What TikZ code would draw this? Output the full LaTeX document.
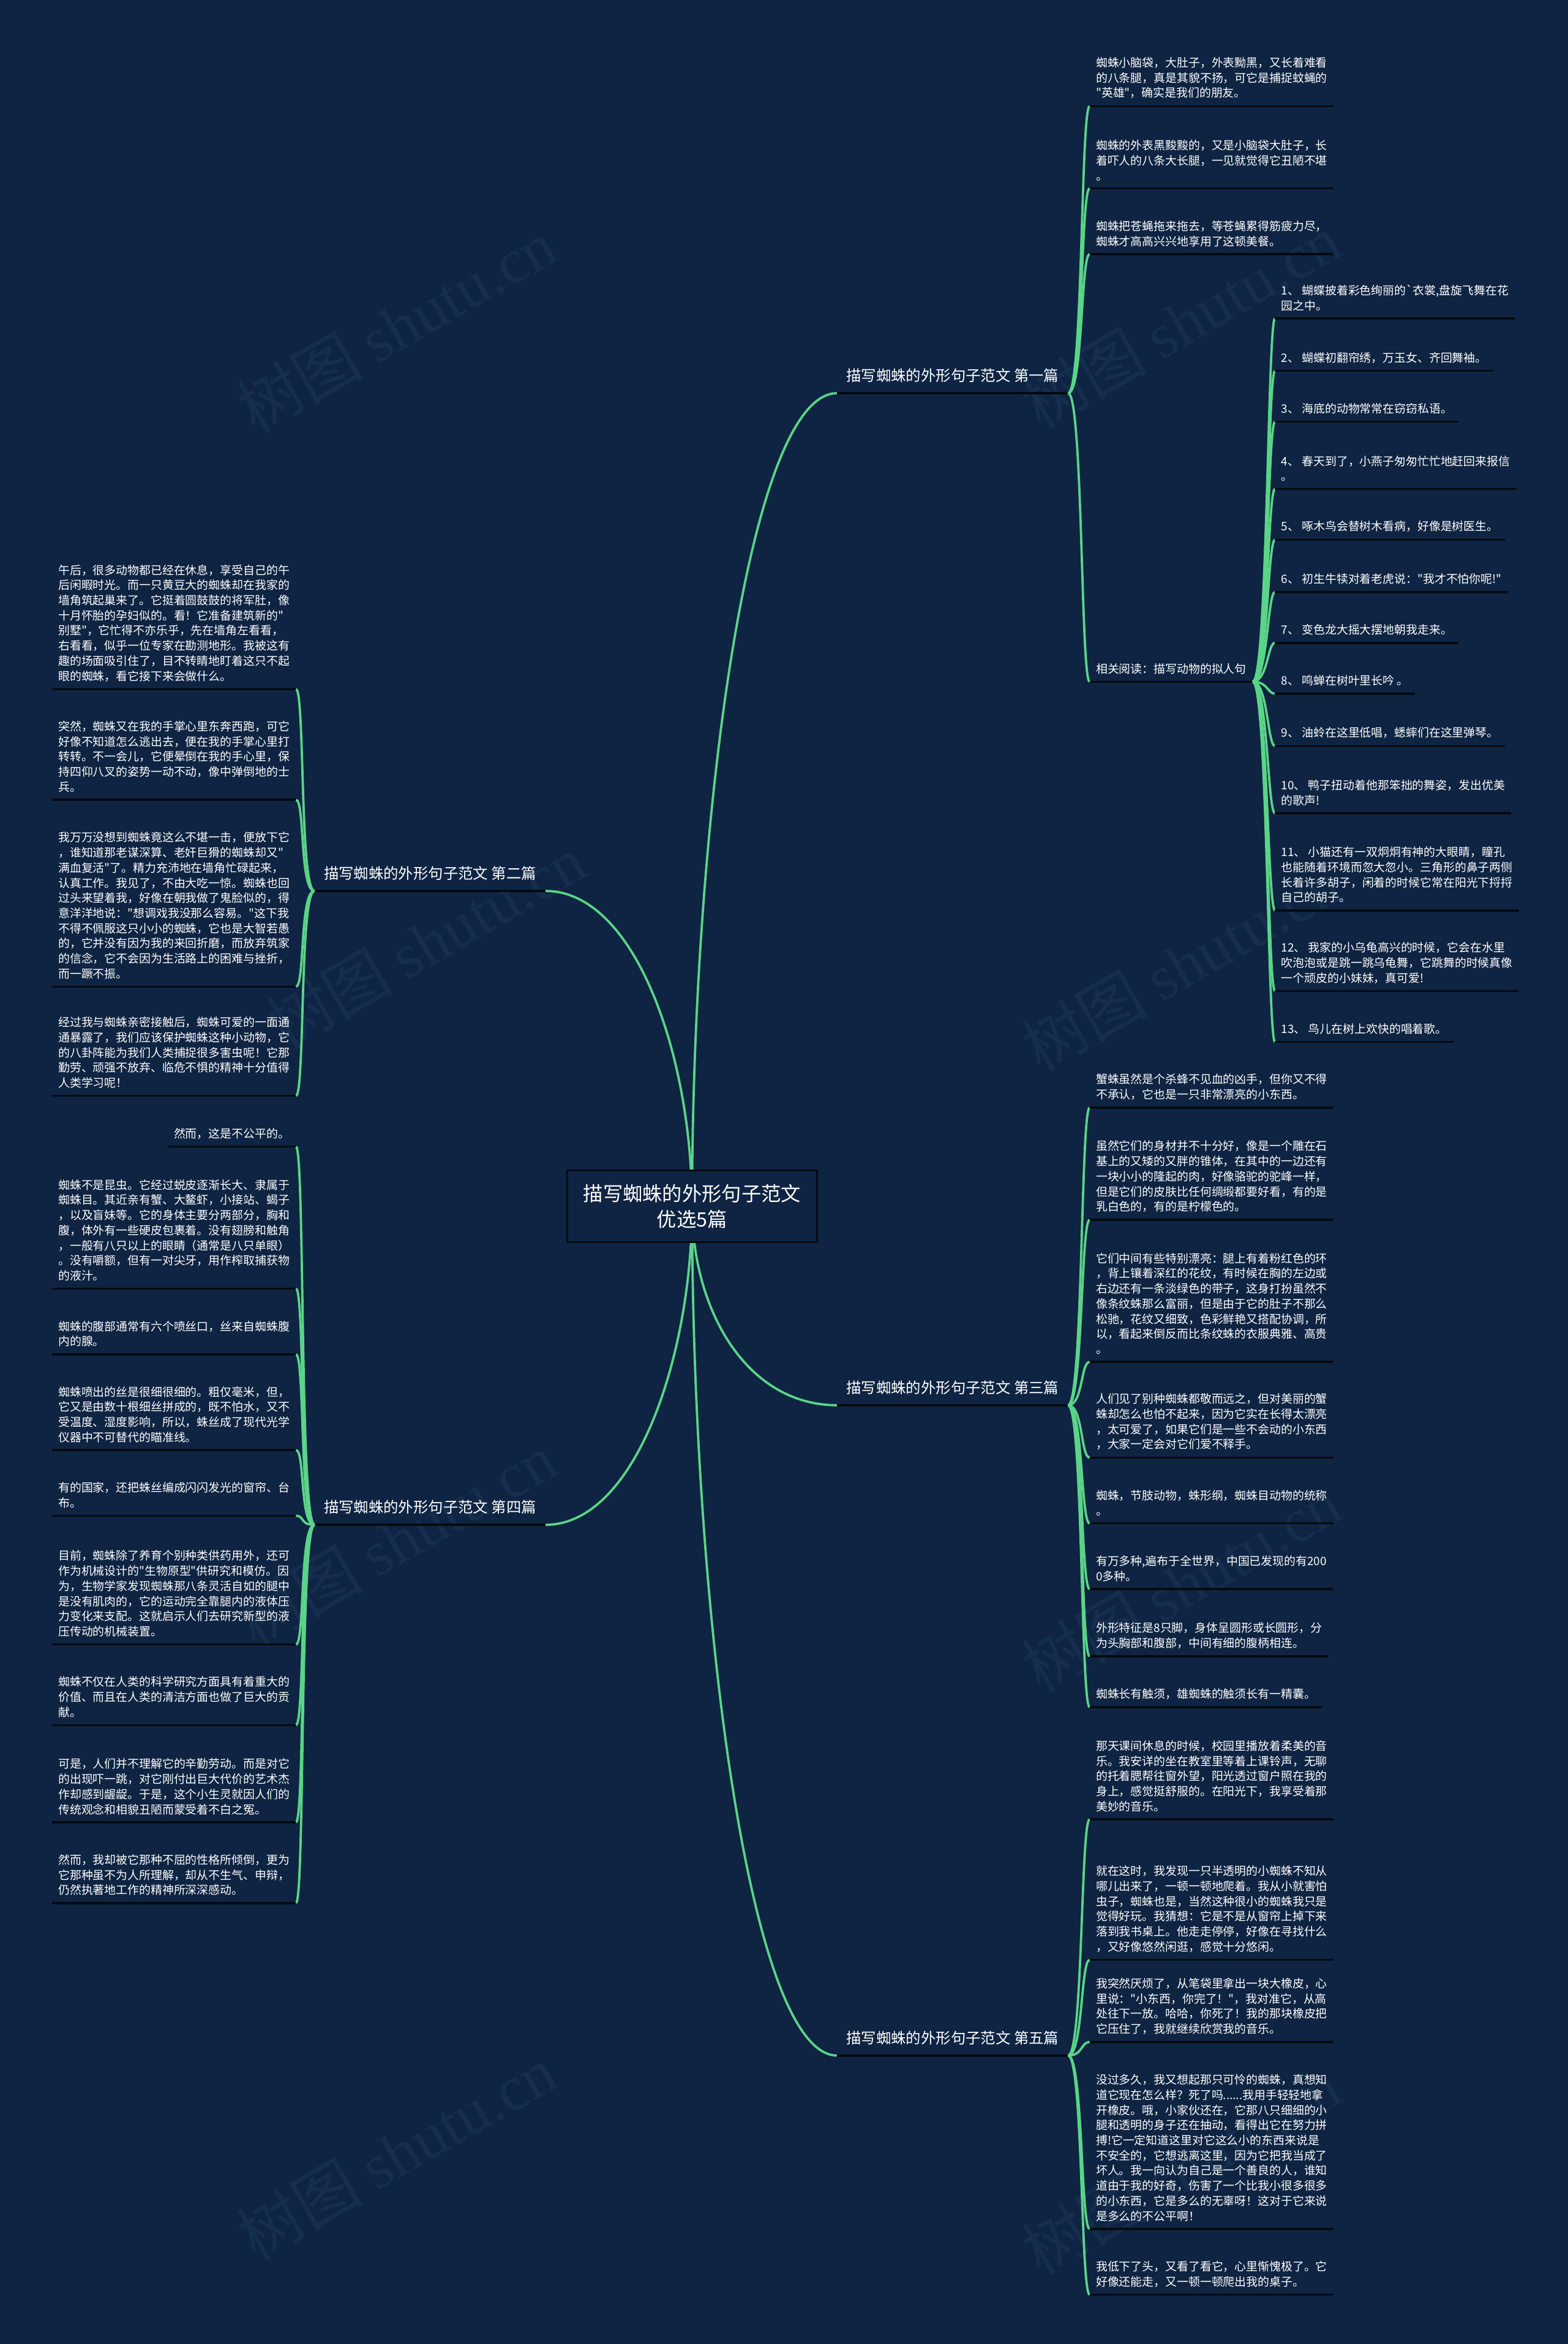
\documentclass[tikz,border=0pt]{standalone}
\usepackage{fontspec}
\setmainfont{Noto Sans CJK SC}
\newfontfamily\cjk{Noto Sans CJK SC}
\newfontfamily\wmserif{Liberation Serif}
\usetikzlibrary{backgrounds}

\definecolor{bgnavy}{HTML}{0E2442}
\definecolor{linkgreen}{HTML}{5AD487}
\definecolor{ulblack}{HTML}{050A12}
\definecolor{wmgray}{HTML}{152E4D}

\tikzset{
    link/.style={draw=linkgreen, line width=1.1pt},
    uline/.style={draw=ulblack, line width=1pt},
    leaf/.style={text=white, align=left, inner xsep=0.1cm, inner ysep=0.12cm,
        font=\cjk\fontsize{5.5pt}{7.2pt}\selectfont},
    leafR/.style={leaf, anchor=south west},
    leafL/.style={leaf, anchor=south east},
    branch/.style={text=white, inner xsep=0.15cm, inner ysep=0.17cm,
        font=\cjk\fontsize{7.1pt}{9pt}\selectfont},
    rootbox/.style={draw=ulblack, fill=bgnavy, text=white, align=center, line width=0.8pt,
        minimum width=4.175cm, minimum height=1.2cm, font=\cjk\fontsize{9.4pt}{12pt}\selectfont},
    watermark/.style={text=wmgray, rotate=30, font=\cjk\fontsize{30pt}{30pt}\selectfont}
}

\begin{document}
\begin{tikzpicture}[x=0.025cm, y=-0.025cm]

    % 1. 中心主题
    \node[rootbox] (root) at (463,807) {描写蜘蛛的外形句子范文\\优选5篇};

    % 2. 五个分支
    \node[branch, anchor=south west] (b1) at (560,263)  {描写蜘蛛的外形句子范文 第一篇};
    \node[branch, anchor=south east] (b2) at (365,596)  {描写蜘蛛的外形句子范文 第二篇};
    \node[branch, anchor=south west] (b3) at (560,940)  {描写蜘蛛的外形句子范文 第三篇};
    \node[branch, anchor=south east] (b4) at (365,1020) {描写蜘蛛的外形句子范文 第四篇};
    \node[branch, anchor=south west] (b5) at (560,1375) {描写蜘蛛的外形句子范文 第五篇};
    \foreach \b in {b1,b2,b3,b4,b5} {
        \draw[uline] (\b.south west) -- (\b.south east);
    }

    % 背景、水印和主干连线
    \begin{scope}[on background layer]
        \fill[bgnavy] (0,0) rectangle (1049,1568);
        \foreach \x/\y in {265/218, 790/215, 285/630, 790/645, 265/1030, 790/1060, 265/1440, 790/1450} {
            \node[watermark] at (\x,\y) {树图 {\wmserif shutu.cn}};
        }
        \draw[link] (root.center) .. controls +(0,-250) and +(-60,0) .. (b1.south west);
        \draw[link] (root.center) .. controls +(0,-100) and +(60,0) .. (b2.south east);
        \draw[link] (root.center) .. controls +(0,70) and +(-60,0) .. (b3.south west);
        \draw[link] (root.center) .. controls +(0,100) and +(60,0) .. (b4.south east);
        \draw[link] (root.center) .. controls +(0,260) and +(-60,0) .. (b5.south west);
    \end{scope}
    \useasboundingbox (0,0) rectangle (1049,1568);

    % 3. 第一篇
    \foreach \n/\y/\t in {
        b1c1/71/{蜘蛛小脑袋，大肚子，外表黝黑，又长着难看\\的八条腿，真是其貌不扬，可它是捕捉蚊蝇的\\"英雄"，确实是我们的朋友。},
        b1c2/126/{蜘蛛的外表黑黢黢的，又是小脑袋大肚子，长\\着吓人的八条大长腿，一见就觉得它丑陋不堪\\。},
        b1c3/170/{蜘蛛把苍蝇拖来拖去，等苍蝇累得筋疲力尽，\\蜘蛛才高高兴兴地享用了这顿美餐。},
        b1c4/456/{相关阅读：描写动物的拟人句}} {
        \node[leafR] (\n) at (729,\y) {\t};
        \draw[link] (b1.south east) .. controls +(10,0) and +(-6,0) .. (\n.south west);
        \draw[uline] (\n.south west) -- (\n.south east);
    }

    % 相关阅读
    \foreach \n/\y/\t in {
        r1/213/{1、 蝴蝶披着彩色绚丽的\symbol{96}衣裳,盘旋飞舞在花\\园之中。},
        r2/248/{2、 蝴蝶初翻帘绣，万玉女、齐回舞袖。},
        r3/282/{3、 海底的动物常常在窃窃私语。},
        r4/327/{4、 春天到了，小燕子匆匆忙忙地赶回来报信\\。},
        r5/361/{5、 啄木鸟会替树木看病，好像是树医生。},
        r6/396/{6、 初生牛犊对着老虎说："我才不怕你呢!"},
        r7/430/{7、 变色龙大摇大摆地朝我走来。},
        r8/464/{8、 鸣蝉在树叶里长吟 。},
        r9/499/{9、 油蛉在这里低唱，蟋蟀们在这里弹琴。},
        r10/544/{10、 鸭子扭动着他那笨拙的舞姿，发出优美\\的歌声!},
        r11/609/{11、 小猫还有一双炯炯有神的大眼睛，瞳孔\\也能随着环境而忽大忽小。三角形的鼻子两侧\\长着许多胡子，闲着的时候它常在阳光下捋捋\\自己的胡子。},
        r12/663/{12、 我家的小乌龟高兴的时候，它会在水里\\吹泡泡或是跳一跳乌龟舞，它跳舞的时候真像\\一个顽皮的小妹妹，真可爱!},
        r13/697/{13、 鸟儿在树上欢快的唱着歌。}} {
        \node[leafR] (\n) at (853,\y) {\t};
        \draw[link] (b1c4.south east) .. controls +(10,0) and +(-5,0) .. (\n.south west);
        \draw[uline] (\n.south west) -- (\n.south east);
    }

    % 4. 第二篇
    \foreach \n/\y/\t in {
        b2c1/461/{午后，很多动物都已经在休息，享受自己的午\\后闲暇时光。而一只黄豆大的蜘蛛却在我家的\\墙角筑起巢来了。它挺着圆鼓鼓的将军肚，像\\十月怀胎的孕妇似的。看！它准备建筑新的"\\别墅"，它忙得不亦乐乎，先在墙角左看看，\\右看看，似乎一位专家在勘测地形。我被这有\\趣的场面吸引住了，目不转睛地盯着这只不起\\眼的蜘蛛，看它接下来会做什么。},
        b2c2/535/{突然，蜘蛛又在我的手掌心里东奔西跑，可它\\好像不知道怎么逃出去，便在我的手掌心里打\\转转。不一会儿，它便晕倒在我的手心里，保\\持四仰八叉的姿势一动不动，像中弹倒地的士\\兵。},
        b2c3/660/{我万万没想到蜘蛛竟这么不堪一击，便放下它\\，谁知道那老谋深算、老奸巨猾的蜘蛛却又"\\满血复活"了。精力充沛地在墙角忙碌起来，\\认真工作。我见了，不由大吃一惊。蜘蛛也回\\过头来望着我，好像在朝我做了鬼脸似的，得\\意洋洋地说："想调戏我没那么容易。"这下我\\不得不佩服这只小小的蜘蛛，它也是大智若愚\\的，它并没有因为我的来回折磨，而放弃筑家\\的信念，它不会因为生活路上的困难与挫折，\\而一蹶不振。},
        b2c4/733/{经过我与蜘蛛亲密接触后，蜘蛛可爱的一面通\\通暴露了，我们应该保护蜘蛛这种小动物，它\\的八卦阵能为我们人类捕捉很多害虫呢！它那\\勤劳、顽强不放弃、临危不惧的精神十分值得\\人类学习呢！}} {
        \node[leafL] (\n) at (198,\y) {\t};
        \draw[link] (b2.south west) .. controls +(-10,0) and +(6,0) .. (\n.south east);
        \draw[uline] (\n.south west) -- (\n.south east);
    }

    % 5. 第三篇
    \foreach \n/\y/\t in {
        b3c1/741/{蟹蛛虽然是个杀蜂不见血的凶手，但你又不得\\不承认，它也是一只非常漂亮的小东西。},
        b3c2/816/{虽然它们的身材并不十分好，像是一个雕在石\\基上的又矮的又胖的锥体，在其中的一边还有\\一块小小的隆起的肉，好像骆驼的驼峰一样，\\但是它们的皮肤比任何绸缎都要好看，有的是\\乳白色的，有的是柠檬色的。},
        b3c3/911/{它们中间有些特别漂亮：腿上有着粉红色的环\\，背上镶着深红的花纹，有时候在胸的左边或\\右边还有一条淡绿色的带子，这身打扮虽然不\\像条纹蛛那么富丽，但是由于它的肚子不那么\\松驰，花纹又细致，色彩鲜艳又搭配协调，所\\以，看起来倒反而比条纹蛛的衣服典雅、高贵\\。},
        b3c4/975/{人们见了别种蜘蛛都敬而远之，但对美丽的蟹\\蛛却怎么也怕不起来，因为它实在长得太漂亮\\，太可爱了，如果它们是一些不会动的小东西\\，大家一定会对它们爱不释手。},
        b3c5/1019/{蜘蛛，节肢动物，蛛形纲，蜘蛛目动物的统称\\。},
        b3c6/1063/{有万多种,遍布于全世界，中国已发现的有200\\0多种。},
        b3c7/1108/{外形特征是8只脚，身体呈圆形或长圆形，分\\为头胸部和腹部，中间有细的腹柄相连。},
        b3c8/1142/{蜘蛛长有触须，雄蜘蛛的触须长有一精囊。}} {
        \node[leafR] (\n) at (729,\y) {\t};
        \draw[link] (b3.south east) .. controls +(10,0) and +(-6,0) .. (\n.south west);
        \draw[uline] (\n.south west) -- (\n.south east);
    }

    % 6. 第四篇
    \foreach \n/\y/\t in {
        b4c1/767/{然而，这是不公平的。},
        b4c2/862/{蜘蛛不是昆虫。它经过蜕皮逐渐长大、隶属于\\蜘蛛目。其近亲有蟹、大鳌虾，小接站、蝎子\\，以及盲妹等。它的身体主要分两部分，胸和\\腹，体外有一些硬皮包裹着。没有翅膀和触角\\，一般有八只以上的眼睛（通常是八只单眼）\\。没有嚼额，但有一对尖牙，用作榨取捕获物\\的液汁。},
        b4c3/906/{蜘蛛的腹部通常有六个喷丝口，丝来自蜘蛛腹\\内的腺。},
        b4c4/970/{蜘蛛喷出的丝是很细很细的。粗仅毫米，但，\\它又是由数十根细丝拼成的，既不怕水，又不\\受温度、湿度影响，所以，蛛丝成了现代光学\\仪器中不可替代的瞄准线。},
        b4c5/1014/{有的国家，还把蛛丝编成闪闪发光的窗帘、台\\布。},
        b4c6/1100/{目前，蜘蛛除了养育个别种类供药用外，还可\\作为机械设计的"生物原型"供研究和模仿。因\\为，生物学家发现蜘蛛那八条灵活自如的腿中\\是没有肌肉的，它的运动完全靠腿内的液体压\\力变化来支配。这就启示人们去研究新型的液\\压传动的机械装置。},
        b4c7/1154/{蜘蛛不仅在人类的科学研究方面具有着重大的\\价值、而且在人类的清洁方面也做了巨大的贡\\献。},
        b4c8/1219/{可是，人们并不理解它的辛勤劳动。而是对它\\的出现吓一跳，对它刚付出巨大代价的艺术杰\\作却感到龌龊。于是，这个小生灵就因人们的\\传统观念和相貌丑陋而蒙受着不白之冤。},
        b4c9/1273/{然而，我却被它那种不屈的性格所倾倒，更为\\它那种虽不为人所理解，却从不生气、申辩，\\仍然执著地工作的精神所深深感动。}} {
        \node[leafL] (\n) at (198,\y) {\t};
        \draw[link] (b4.south west) .. controls +(-10,0) and +(6,0) .. (\n.south east);
        \draw[uline] (\n.south west) -- (\n.south east);
    }

    % 7. 第五篇
    \foreach \n/\y/\t in {
        b5c1/1217/{那天课间休息的时候，校园里播放着柔美的音\\乐。我安详的坐在教室里等着上课铃声，无聊\\的托着腮帮往窗外望，阳光透过窗户照在我的\\身上，感觉挺舒服的。在阳光下，我享受着那\\美妙的音乐。},
        b5c2/1311/{就在这时，我发现一只半透明的小蜘蛛不知从\\哪儿出来了，一顿一顿地爬着。我从小就害怕\\虫子，蜘蛛也是，当然这种很小的蜘蛛我只是\\觉得好玩。我猜想：它是不是从窗帘上掉下来\\落到我书桌上。他走走停停，好像在寻找什么\\，又好像悠然闲逛，感觉十分悠闲。},
        b5c3/1366/{我突然厌烦了，从笔袋里拿出一块大橡皮，心\\里说："小东西，你完了！"，我对准它，从高\\处往下一放。哈哈，你死了！我的那块橡皮把\\它压住了，我就继续欣赏我的音乐。},
        b5c4/1491/{没过多久，我又想起那只可怜的蜘蛛，真想知\\道它现在怎么样？死了吗......我用手轻轻地拿\\开橡皮。哦，小家伙还在，它那八只细细的小\\腿和透明的身子还在抽动，看得出它在努力拼\\搏!它一定知道这里对它这么小的东西来说是\\不安全的，它想逃离这里，因为它把我当成了\\坏人。我一向认为自己是一个善良的人，谁知\\道由于我的好奇，伤害了一个比我小很多很多\\的小东西，它是多么的无辜呀！这对于它来说\\是多么的不公平啊！},
        b5c5/1535/{我低下了头，又看了看它，心里惭愧极了。它\\好像还能走，又一顿一顿爬出我的桌子。}} {
        \node[leafR] (\n) at (729,\y) {\t};
        \draw[link] (b5.south east) .. controls +(10,0) and +(-6,0) .. (\n.south west);
        \draw[uline] (\n.south west) -- (\n.south east);
    }

\end{tikzpicture}
\end{document}
